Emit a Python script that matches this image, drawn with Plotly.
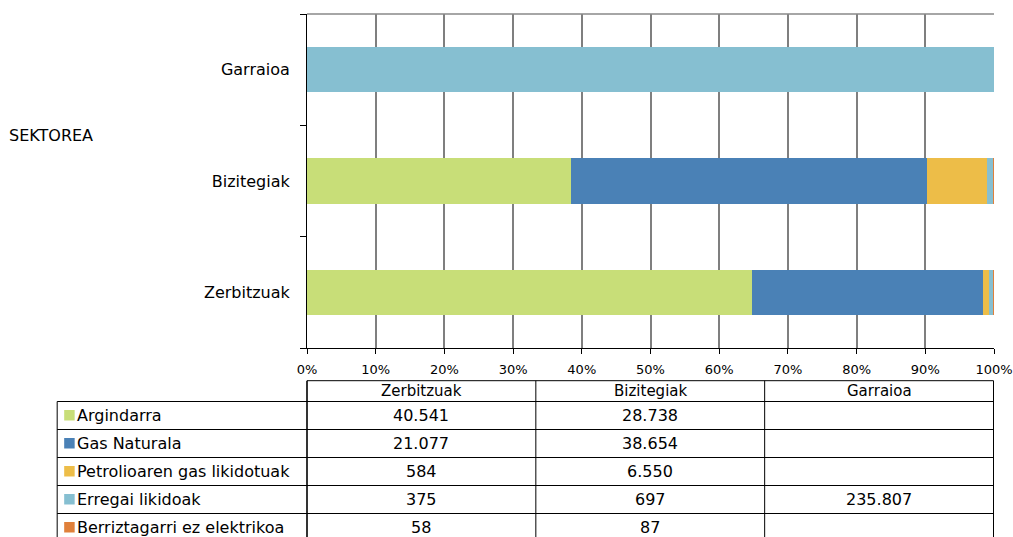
import plotly.graph_objects as go

# data
sectors = ["Zerbitzuak", "Bizitegiak", "Garraioa"]
sources = ["Argindarra", "Gas Naturala", "Petrolioaren gas likidotuak",
           "Erregai likidoak", "Berriztagarri ez elektrikoa"]
argindarra = [40541, 28738, None]
gas_naturala = [21077, 38654, None]
petrolioa = [584, 6550, None]
erregai = [375, 697, 235807]
berriztagarri = [58, 87, None]
series = [argindarra, gas_naturala, petrolioa, erregai, berriztagarri]
colors = ["#C8DE78", "#4A81B6", "#EDBD48", "#86BFD1", "#E0803A"]

FONT = "DejaVu Sans"
W, H = 1013, 537
PL, PR, PT, PB = 307, 994.5, 14, 348


def xp(px):
    return (px - PL) / (PR - PL)


def yp(py):
    return (PB - py) / (PB - PT)


fig = go.Figure()
for name, vals, col in zip(sources, series, colors):
    fig.add_trace(go.Bar(y=sectors, x=vals, name=name, orientation="h",
                         marker=dict(color=col, line=dict(width=0))))

fig.update_layout(
    barmode="stack", barnorm="percent", bargap=0.595,
    width=W, height=H, autosize=False,
    margin=dict(l=PL, r=W - PR, t=PT, b=H - PB, pad=0, autoexpand=False),
    paper_bgcolor="white", plot_bgcolor="white",
    showlegend=False,
    font=dict(family=FONT, color="#000000"),
)
fig.update_xaxes(
    range=[0, 100], dtick=10, ticksuffix="%", automargin=False,
    showgrid=True, gridcolor="#7f7f7f", gridwidth=1.6, zeroline=False,
    showline=True, linecolor="#000000", linewidth=1,
    ticks="outside", ticklen=5, tickcolor="#000000", tickwidth=1,
    tickfont=dict(family=FONT, size=13, color="#000000"),
    ticklabelstandoff=4,
)
fig.update_yaxes(
    showgrid=False, zeroline=False, automargin=False,
    showline=True, linecolor="#000000", linewidth=1,
    ticks="outside", tickson="boundaries", ticklen=6, tickcolor="#000000",
    tickfont=dict(family=FONT, size=16, color="#000000"),
    ticklabelstandoff=13,
)

shapes = []
annos = []
# top border of plot area
shapes.append(dict(type="line", xref="paper", yref="paper", x0=0, x1=1, y0=1, y1=1,
                   line=dict(color="#888888", width=1.5)))

annos.append(dict(text="SEKTOREA", x=xp(7), y=yp(135), xref="paper", yref="paper",
                  xanchor="left", yanchor="middle", showarrow=False,
                  font=dict(family=FONT, size=16, color="#000000")))

# data table below the chart
col_edges = [57, 307, 536, 765, 994]
head_top, head_bot = 380.7, 401.5
row_h = 28
row_tops = [head_bot + i * row_h for i in range(len(sources))]
table_bot = row_tops[-1] + row_h

line = dict(color="#000000", width=1)
# horizontal lines
shapes.append(dict(type="line", xref="paper", yref="paper", x0=xp(col_edges[1]), x1=xp(col_edges[-1]),
                   y0=yp(head_top), y1=yp(head_top), line=line))
for t in row_tops + [table_bot]:
    shapes.append(dict(type="line", xref="paper", yref="paper", x0=xp(col_edges[0]), x1=xp(col_edges[-1]),
                       y0=yp(t), y1=yp(t), line=line))
# vertical lines
shapes.append(dict(type="line", xref="paper", yref="paper", x0=xp(col_edges[0]), x1=xp(col_edges[0]),
                   y0=yp(head_bot), y1=yp(table_bot), line=line))
for i, cx in enumerate(col_edges[1:]):
    shapes.append(dict(type="line", xref="paper", yref="paper", x0=xp(cx), x1=xp(cx),
                       y0=yp(head_top), y1=yp(table_bot),
                       line=dict(color="#000000", width=1.6 if i == 0 else 1)))

# header
for j, s in enumerate(sectors):
    cx = (col_edges[j + 1] + col_edges[j + 2]) / 2
    annos.append(dict(text=s, x=xp(cx), y=yp((head_top + head_bot) / 2), xref="paper", yref="paper",
                      xanchor="center", yanchor="middle", showarrow=False,
                      font=dict(family=FONT, size=15, color="#000000")))

# rows
for i, (name, vals, col) in enumerate(zip(sources, series, colors)):
    cy = row_tops[i] + 13.5
    shapes.append(dict(type="rect", xref="paper", yref="paper", x0=xp(64), x1=xp(74.5),
                       y0=yp(cy - 5), y1=yp(cy + 5.5), fillcolor=col, line=dict(width=0)))
    annos.append(dict(text=name, x=xp(75), y=yp(cy), xref="paper", yref="paper",
                      xanchor="left", yanchor="middle", showarrow=False,
                      font=dict(family=FONT, size=16, color="#000000")))
    for j, v in enumerate(vals):
        if v is None:
            continue
        cx = (col_edges[j + 1] + col_edges[j + 2]) / 2
        annos.append(dict(text=f"{v:,}".replace(",", "."), x=xp(cx), y=yp(cy),
                          xref="paper", yref="paper", xanchor="center", yanchor="middle",
                          showarrow=False, font=dict(family=FONT, size=16, color="#000000")))

fig.update_layout(shapes=shapes, annotations=annos)
fig.write_html("out.html", config={"displayModeBar": False},
               post_script="document.body.style.margin='0px';")
